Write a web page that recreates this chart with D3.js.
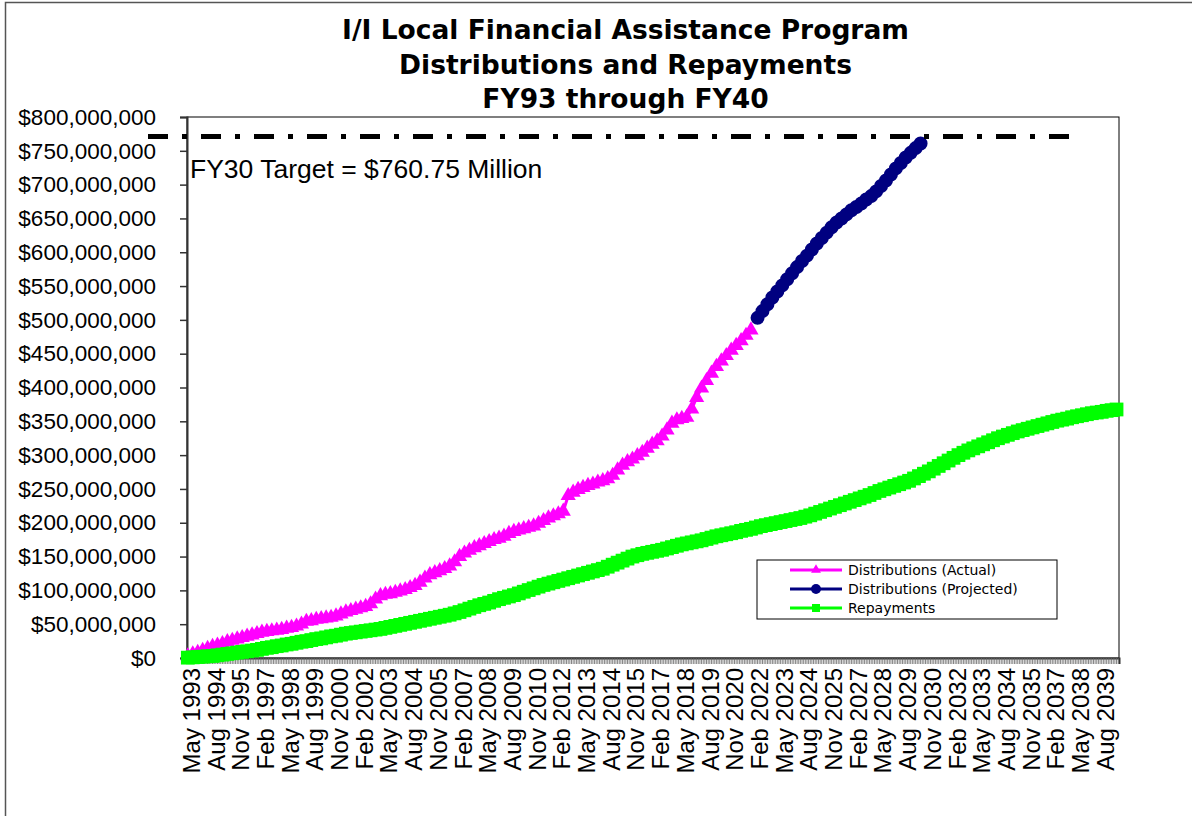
<!DOCTYPE html>
<html>
<head>
<meta charset="utf-8">
<script src="https://cdn.jsdelivr.net/npm/d3@7"></script>
<style>
  body { margin: 0; background: #fff; }
  svg { display: block; }
</style>
</head>
<body>
<script>
// monthly categories, May 1993 .. Jun 2040 (FY40)
const months = d3.timeMonth.range(new Date(1993, 4, 1), new Date(2040, 6, 1));

// label every 15th month
const xLabels = [
  "May 1993", "Aug 1994", "Nov 1995", "Feb 1997", "May 1998", "Aug 1999", "Nov 2000", "Feb 2002",
  "May 2003", "Aug 2004", "Nov 2005", "Feb 2007", "May 2008", "Aug 2009", "Nov 2010", "Feb 2012",
  "May 2013", "Aug 2014", "Nov 2015", "Feb 2017", "May 2018", "Aug 2019", "Nov 2020", "Feb 2022",
  "May 2023", "Aug 2024", "Nov 2025", "Feb 2027", "May 2028", "Aug 2029", "Nov 2030", "Feb 2032",
  "May 2033", "Aug 2034", "Nov 2035", "Feb 2037", "May 2038", "Aug 2039"
];
const labelEvery = 15;

const yTicks = [0, 50, 100, 150, 200, 250, 300, 350, 400, 450, 500, 550, 600, 650, 700, 750, 800];

// values in $ millions, one every 3 months (quarterly readings)
const actualStart = 0; // May 1993
const actual = [
  3, 6, 8, 11, 14, 17, 19, 21, 24, 26, 28, 30, 32, 34, 36, 38, 39, 40, 41, 42,
  44, 45, 47, 50, 54, 55, 57, 58, 59, 60, 62, 65, 68, 70, 72, 74, 76, 80, 87, 92,
  94, 95, 97, 99, 101, 104, 107, 112, 118, 123, 126, 129, 132, 136, 142, 150, 155, 159, 163, 166,
  169, 172, 175, 177, 180, 184, 187, 189, 191, 193, 195, 199, 203, 207, 210, 213, 217, 240, 245, 249,
  252, 255, 257, 260, 262, 265, 270, 278, 285, 290, 294, 299, 304, 310, 316, 321, 328, 337, 347, 352,
  354, 356, 368, 385, 399, 410, 421, 431, 439, 447, 455, 462, 469, 477, 485
];

const projectedStart = 346; // Mar 2022
const projected = [
  503, 513, 523, 533, 542, 551, 560, 569, 578, 587, 595, 604, 613, 621, 629, 637, 644,
  650, 656, 662, 667, 672, 678, 683, 690, 698, 706, 715, 724, 732, 740, 747, 754, 760.75
];

const repayStart = 0;
const repayments = [
  0.5, 1, 1.5, 2, 2.5, 3, 4, 5, 6, 7, 8, 9, 10, 11, 12, 13.5, 15, 16, 17.5, 18.5,
  20, 21, 22.5, 24, 25, 26.5, 28, 29, 30.5, 32, 33, 34.5, 36, 37, 38, 39, 40, 41, 42, 43,
  44.5, 46, 47.5, 49, 50.5, 52, 53.5, 55, 56.5, 58, 59.5, 61, 62.5, 64, 66, 68, 70.5, 73, 75.5, 78,
  80, 82, 84.5, 87, 89, 91, 93, 95.5, 98, 100.5, 103, 105.5, 108, 110, 112, 114, 116, 118, 120, 122,
  124, 126, 128, 130, 132, 135, 138, 141, 144, 147, 150, 152, 154, 155.5, 157, 158.5, 160, 162, 164, 166,
  168, 169.5, 171, 172.5, 174, 176, 178, 180, 181.5, 183, 184.5, 186, 188, 189.5, 191, 193, 195, 196.5, 198, 199.5,
  201, 202.5, 204, 205.5, 207, 209, 211, 213.5, 216, 218.5, 221, 223.5, 226, 228.5, 231, 233.5, 236, 238.5, 241, 244,
  247, 249.5, 252, 254.5, 257, 259.5, 262, 265.5, 269, 272.5, 276, 280, 284, 288, 292, 296, 300, 303.5, 307, 310,
  313, 316, 319, 322, 325, 327.5, 330, 332.5, 335, 337, 339, 341, 343, 345, 347, 349, 351, 352.5, 354, 356,
  357.5, 359, 360.5, 362, 363, 364, 365.5, 366.5, 367.5
];

const targetText = "FY30 Target = $760.75 Million";
const targetLevel = 771; // where the drawn target line sits

const titleLines = ["I/I Local Financial Assistance Program", "Distributions and Repayments", "FY93 through FY40"];

const seriesInfo = [
  { name: "Distributions (Actual)", color: "#ff00ff", symbol: d3.symbolTriangle },
  { name: "Distributions (Projected)", color: "#000080", symbol: d3.symbolCircle },
  { name: "Repayments", color: "#00ff00", symbol: d3.symbolSquare }
];

const W = 1192, H = 816;
const margin = { top: 117, right: 73, bottom: 158, left: 187 };
const width = W - margin.left - margin.right;
const height = H - margin.top - margin.bottom;

const svg = d3.select("body").append("svg")
  .attr("width", W)
  .attr("height", H);

// outer chart frame
svg.append("rect")
  .attr("x", 5.5).attr("y", 2.5)
  .attr("width", W + 20).attr("height", H + 20)
  .attr("fill", "none")
  .attr("stroke", "#555")
  .attr("stroke-width", 1.5);

const x = d3.scaleBand()
  .domain(d3.range(months.length))
  .range([0, width])
  .padding(0);

const y = d3.scaleLinear()
  .domain([0, 800])
  .range([height, 0]);

const cx = i => x(i) + x.bandwidth() / 2;

const g = svg.append("g")
  .attr("transform", "translate(" + margin.left + "," + margin.top + ")");

// plot area border
g.append("rect")
  .attr("width", width)
  .attr("height", height)
  .attr("fill", "none")
  .attr("stroke", "#000")
  .attr("stroke-width", 1);

// y axis
const yAxis = g.append("g")
  .attr("class", "y axis")
  .call(d3.axisLeft(y).tickValues(yTicks).tickSize(7).tickPadding(24)
    .tickFormat(d => d3.format("$,")(d * 1e6)));
yAxis.select(".domain").attr("stroke", "#333").attr("stroke-width", 2);
yAxis.selectAll(".tick line").attr("stroke", "#333").attr("stroke-width", 1.5);
yAxis.selectAll("text")
  .attr("font-family", "Liberation Sans")
  .attr("font-size", 22.5)
  .attr("fill", "#000");

// x axis: monthly ticks
const xTicks = g.append("g")
  .attr("transform", "translate(0," + height + ")")
  .call(d3.axisBottom(x).tickValues(d3.range(months.length)).tickSize(6).tickFormat(""));
xTicks.select(".domain").attr("stroke", "#333").attr("stroke-width", 2);
xTicks.selectAll(".tick line").attr("stroke", "#666").attr("stroke-width", 0.8);

// x axis labels
const labelIdx = xLabels.map((d, k) => k * labelEvery);
const xLab = g.append("g")
  .attr("transform", "translate(0," + height + ")")
  .call(d3.axisBottom(x).tickValues(labelIdx).tickSize(0).tickFormat((d, k) => xLabels[k]));
xLab.select(".domain").remove();
xLab.selectAll("text")
  .attr("font-family", "Liberation Sans")
  .attr("font-size", 24)
  .attr("fill", "#000")
  .attr("text-anchor", "end")
  .attr("transform", "rotate(-90)")
  .attr("x", -10)
  .attr("y", 0)
  .attr("dy", "0.5em");

// series
function toPoints(values, start) {
  return values.map((v, k) => ({ i: start + 3 * k, v: v }));
}
const series = [
  toPoints(actual, actualStart),
  toPoints(projected, projectedStart),
  toPoints(repayments, repayStart)
];
const markerSize = [100, 154, 190];

const line = d3.line()
  .x(d => cx(d.i))
  .y(d => y(d.v));

series.forEach((pts, s) => {
  const info = seriesInfo[s];
  g.append("path")
    .datum(pts)
    .attr("fill", "none")
    .attr("stroke", info.color)
    .attr("stroke-width", 3)
    .attr("d", line);
  g.append("g").selectAll("path")
    .data(pts)
    .enter().append("path")
    .attr("transform", d => "translate(" + cx(d.i) + "," + y(d.v) + ")")
    .attr("d", d3.symbol().type(info.symbol).size(markerSize[s]))
    .attr("fill", info.color);
});

// target line (drawn shape)
g.append("line")
  .attr("x1", -39)
  .attr("x2", x(542))
  .attr("y1", y(targetLevel))
  .attr("y2", y(targetLevel))
  .attr("stroke", "#000")
  .attr("stroke-width", 5)
  .attr("stroke-dasharray", "20,14,5,14");

g.append("text")
  .attr("x", 3)
  .attr("y", y(targetLevel) + 41)
  .attr("font-family", "Liberation Sans")
  .attr("font-size", 26.5)
  .text(targetText);

// title
svg.append("g")
  .attr("font-family", "DejaVu Sans")
  .attr("font-weight", "bold")
  .attr("font-size", 26.5)
  .attr("text-anchor", "middle")
  .selectAll("text")
  .data(titleLines)
  .enter().append("text")
  .attr("x", 625.5)
  .attr("y", (d, i) => 39 + i * 34.5)
  .text(d => d);

// legend
const legend = svg.append("g")
  .attr("transform", "translate(757,560)");
legend.append("rect")
  .attr("width", 300)
  .attr("height", 59)
  .attr("fill", "#fff")
  .attr("stroke", "#000")
  .attr("stroke-width", 1);
const legendSize = [42, 78, 64];
const item = legend.selectAll(".item")
  .data(seriesInfo)
  .enter().append("g")
  .attr("transform", (d, i) => "translate(0," + (10 + i * 19) + ")");
item.append("line")
  .attr("x1", 33).attr("x2", 85)
  .attr("stroke", d => d.color)
  .attr("stroke-width", 3);
item.append("path")
  .attr("transform", "translate(59,0)")
  .attr("d", (d, i) => d3.symbol().type(d.symbol).size(legendSize[i])())
  .attr("fill", d => d.color);
item.append("text")
  .attr("x", 91)
  .attr("dy", "0.36em")
  .attr("font-family", "DejaVu Sans")
  .attr("font-size", 14)
  .text(d => d.name);
</script>
</body>
</html>
